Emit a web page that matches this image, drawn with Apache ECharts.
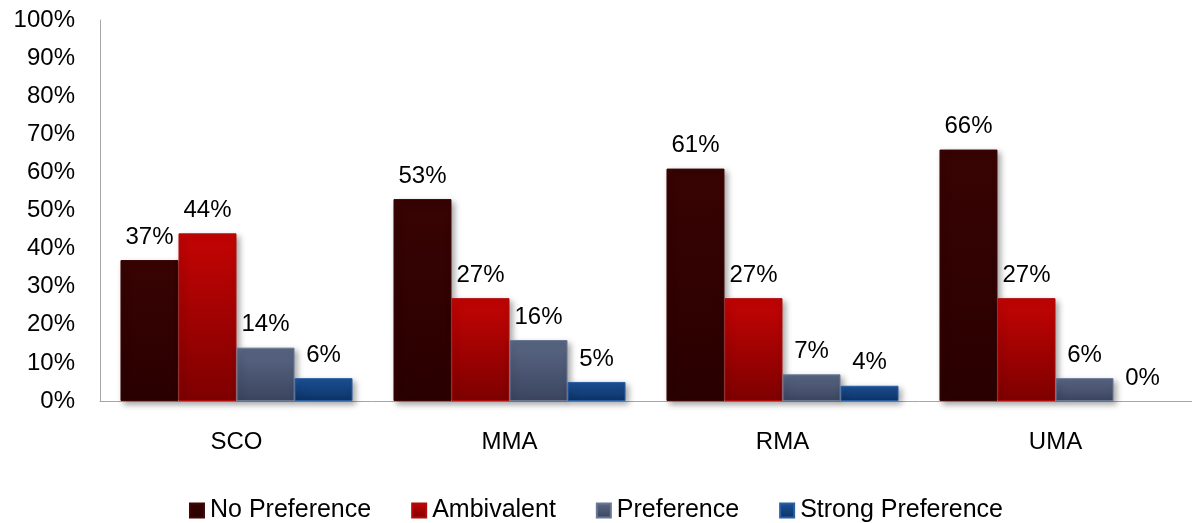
<!DOCTYPE html>
<html>
<head>
<meta charset="utf-8">
<script src="https://cdn.jsdelivr.net/npm/echarts@6/dist/echarts.min.js"></script>
<style>
  html, body { margin: 0; padding: 0; background: #fff; overflow: hidden; }
  #chart { width: 1192px; height: 523px; }
</style>
</head>
<body>
<div id="chart"></div>
<script>
// Categories and percentage values per preference level
const categories = ['SCO', 'MMA', 'RMA', 'UMA'];
const seriesNames = ['No Preference', 'Ambivalent', 'Preference', 'Strong Preference'];
const noPreference = [37, 53, 61, 66];
const ambivalent = [44, 27, 27, 27];
const preference = [14, 16, 7, 6];
const strongPreference = [6, 5, 4, 0];
const yTicks = [0, 10, 20, 30, 40, 50, 60, 70, 80, 90, 100];

const FONT = '"Liberation Sans", Arial, sans-serif';

function grad(top, bottom) {
  return new echarts.graphic.LinearGradient(0, 0, 0, 1, [
    { offset: 0, color: top },
    { offset: 1, color: bottom }
  ]);
}

const styles = [
  { color: grad('#380303', '#2a0000'), border: '#3e0808' },
  { color: grad('#c40404', '#7e0000'), border: '#b00c0c' },
  { color: grad('#5a6784', '#3b4560'), border: '#6a7896' },
  { color: grad('#1d5298', '#0c3266'), border: '#2a5fa4' }
];

const values = [noPreference, ambivalent, preference, strongPreference];

const series = seriesNames.map((name, i) => ({
  name: name,
  type: 'bar',
  // zero-height bars get no outline or shadow
  data: values[i].map(v => v === 0
    ? { value: v, itemStyle: { borderWidth: 0, shadowBlur: 0, shadowOffsetX: 0, shadowOffsetY: 0, opacity: 0 } }
    : v),
  barGap: '0%',
  barCategoryGap: '15%',
  itemStyle: {
    color: styles[i].color,
    borderColor: styles[i].border,
    borderWidth: 1,
    shadowBlur: 6,
    shadowOffsetX: 3,
    shadowOffsetY: 3,
    shadowColor: 'rgba(0,0,0,0.35)'
  },
  label: {
    show: true,
    position: 'top',
    distance: 11,
    formatter: '{c}%',
    color: '#000',
    opacity: 1,
    fontFamily: FONT,
    fontSize: 24
  }
}));

const chart = echarts.init(document.getElementById('chart'), null, { renderer: 'canvas' });
chart.setOption({
  animation: false,
  backgroundColor: '#ffffff',
  grid: { left: 100, right: -5, top: 20, bottom: 122, containLabel: false },
  legend: {
    data: seriesNames.map(n => ({ name: n, icon: 'rect' })),
    top: 493,
    left: 'center',
    itemWidth: 14,
    itemHeight: 14,
    itemGap: 40,
    textStyle: { fontFamily: FONT, fontSize: 25, color: '#000', padding: [0, 0, 0, 1] }
  },
  xAxis: {
    type: 'category',
    data: categories,
    axisLine: { show: true, lineStyle: { color: '#a6a6a6', width: 1 } },
    axisTick: { show: false },
    axisLabel: { color: '#000', fontFamily: FONT, fontSize: 24, margin: 29 }
  },
  yAxis: {
    type: 'value',
    min: yTicks[0],
    max: yTicks[yTicks.length - 1],
    interval: yTicks[1] - yTicks[0],
    axisLine: { show: true, lineStyle: { color: '#a6a6a6', width: 1 } },
    axisTick: { show: false },
    splitLine: { show: false },
    axisLabel: { color: '#000', fontFamily: FONT, fontSize: 24, margin: 25, formatter: '{value}%' }
  },
  series: series
});
</script>
</body>
</html>
